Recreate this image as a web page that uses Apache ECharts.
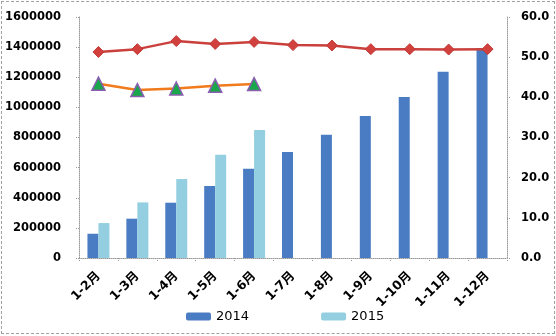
<!DOCTYPE html>
<html>
<head>
<meta charset="utf-8">
<script src="https://cdn.jsdelivr.net/npm/echarts@6/dist/echarts.min.js"></script>
<style>
html,body{margin:0;padding:0;background:#fff;}
#c{width:556px;height:336px;position:relative;}
#frame{position:absolute;left:1px;top:1px;width:552px;height:331px;border:1px dashed #a0a0a0;pointer-events:none;}
</style>
</head>
<body>
<div id="c"></div>
<div id="frame"></div>
<script>
var categories = ['1-2月','1-3月','1-4月','1-5月','1-6月','1-7月','1-8月','1-9月','1-10月','1-11月','1-12月'];
var bars2014 = [161000, 261000, 367000, 478000, 593000, 704000, 818000, 943000, 1069000, 1237000, 1392000];
var bars2015 = [232000, 369000, 524000, 686000, 850000, null, null, null, null, null, null];
var share2014 = [51.3, 52.0, 54.0, 53.3, 53.8, 53.0, 52.9, 52.0, 52.0, 51.9, 52.0];
var share2015 = [43.4, 41.8, 42.2, 42.9, 43.3, null, null, null, null, null, null];
var leftTicks = [0, 1600000, 200000];
var rightTicks = [0, 60, 10];

var font = 'DejaVu Sans, Noto Sans CJK SC, sans-serif';
var chart = echarts.init(document.getElementById('c'));
var axisLineStyle = {color:'#9a9a9a', type:'dotted', width:1};
chart.setOption({
  animation:false,
  grid:{left:79, right:49, top:17, bottom:78},
  legend:{
    data:['2014','2015'], left:181, top:305, itemWidth:25, itemHeight:8, itemGap:72,
    textStyle:{fontFamily:font, fontSize:13, color:'#000', fontWeight:'normal'}
  },
  xAxis:{
    type:'category', data:categories, boundaryGap:true,
    axisLine:{show:true, lineStyle:axisLineStyle},
    axisTick:{show:true, length:4, lineStyle:axisLineStyle},
    axisLabel:{rotate:45, fontFamily:font, fontSize:12.5, fontWeight:'bold', color:'#000', margin:16, interval:0}
  },
  yAxis:[{
    type:'value', min:leftTicks[0], max:leftTicks[1], interval:leftTicks[2],
    splitLine:{show:false},
    axisLine:{show:true, lineStyle:axisLineStyle},
    axisTick:{show:true, length:3, lineStyle:axisLineStyle},
    axisLabel:{fontFamily:font, fontSize:11.5, fontWeight:'bold', color:'#000', margin:18,
      formatter:function(v){return String(v);}}
  },{
    type:'value', min:rightTicks[0], max:rightTicks[1], interval:rightTicks[2],
    splitLine:{show:false},
    axisLine:{show:true, lineStyle:axisLineStyle},
    axisTick:{show:true, length:3, lineStyle:axisLineStyle},
    axisLabel:{fontFamily:font, fontSize:11.5, fontWeight:'bold', color:'#000', margin:14,
      formatter:function(v){return v.toFixed(1);}}
  }],
  series:[
    {name:'2014', type:'bar', data:bars2014, barWidth:11, barGap:'0%',
     itemStyle:{color:'#4a7cc4'}},
    {name:'2015', type:'bar', data:bars2015, barWidth:11, barGap:'0%',
     itemStyle:{color:'#93cfe0'}},
    {name:'2014占比', type:'line', yAxisIndex:1, data:share2014, symbol:'diamond', symbolSize:11,
     lineStyle:{color:'#c9403c', width:2.5}, itemStyle:{color:'#d2403e', borderColor:'#c03a38', borderWidth:1}, z:5},
    {name:'2015占比', type:'line', yAxisIndex:1, data:share2015, symbol:'triangle', symbolSize:13,
     lineStyle:{color:'#f07a1c', width:2.5}, itemStyle:{color:'#1aa64a', borderColor:'#8a5fb0', borderWidth:1.5}, z:5}
  ]
});
</script>
</body>
</html>
